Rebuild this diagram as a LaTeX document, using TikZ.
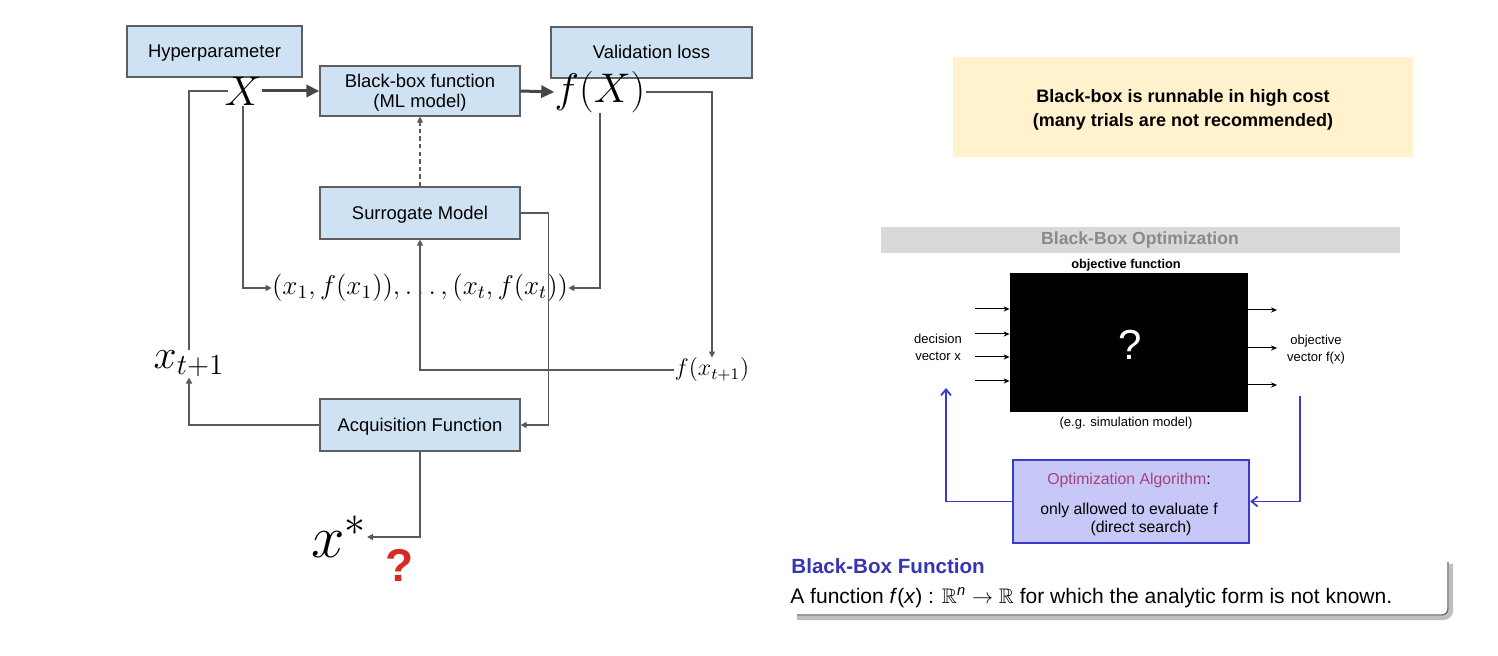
\RequirePackage{fix-cm}
\documentclass[tikz,border=0pt]{standalone}
\usepackage{amsmath}
\usepackage{amssymb}
\usepackage{fontspec}
\newfontfamily\arial{Liberation Sans}
\usetikzlibrary{arrows.meta}
\definecolor{boxfill}{HTML}{CFE2F3}
\definecolor{boxline}{HTML}{5F5F5F}
\definecolor{lineg}{HTML}{595959}
\definecolor{yel}{HTML}{FFF2CC}
\definecolor{banner}{HTML}{D9D9D9}
\definecolor{bannertext}{HTML}{8A8A8A}
\definecolor{blueline}{HTML}{3A3AD0}
\definecolor{optfill}{HTML}{C8C8F8}
\definecolor{optpurple}{HTML}{A8407E}
\definecolor{titleblue}{HTML}{3535B5}
\definecolor{qred}{HTML}{D82A20}
\begin{document}
\begin{tikzpicture}[x=0.5pt,y=-0.5pt,
  every node/.style={inner sep=0pt},
  bbox/.style={draw=boxline, fill=boxfill, line width=0.6pt, align=center,
    text height=6.6pt, text depth=0.5pt,
    font=\arial\fontsize{9.2}{10}\selectfont},
  conn/.style={draw=lineg, line width=0.65pt, -{Triangle[length=3pt,width=3pt]}},
  lineonly/.style={draw=lineg, line width=0.65pt},
  bigarrow/.style={draw=lineg!80!black, line width=1.5pt, -{Triangle[length=6.5pt,width=6pt]}},
  smallarrow/.style={draw=black, line width=0.5pt, -{Stealth[length=3pt,width=2.6pt]}},
  bluearrow/.style={draw=blueline, line width=0.9pt, -{Straight Barb[length=3pt,width=5pt]}},
  rtext/.style={font=\arial\fontsize{6.5}{8.5}\selectfont, align=center},
  opttext/.style={font=\arial\fontsize{7.9}{9}\selectfont}]
\useasboundingbox (0,0) rectangle (1498,656);

% ---------------- left diagram ----------------
\node[bbox, minimum width=87.5pt, minimum height=25.5pt] (hyp) at (214.5,51.5) {Hyperparameter};
\node[bbox, minimum width=100.5pt, minimum height=25.5pt] (val) at (651.5,52.5) {Validation loss};
\node[bbox, text height=16.6pt, minimum width=100pt, minimum height=25pt] (bb) at (420,91) {Black-box function\\(ML model)};
\node[bbox, minimum width=100pt, minimum height=26pt] (sur) at (420,213) {Surrogate Model};
\node[bbox, minimum width=100pt, minimum height=26pt] (acq) at (420,425) {Acquisition Function};

\node (X) at (243,91) {\fontsize{20.7}{24}\selectfont$X$};
\node (fX) at (600,92) {\fontsize{20.7}{24}\selectfont$f(X)$};
\node (data) at (420,288) {\fontsize{13.56}{16}\selectfont$(x_1,f(x_1)),\ldots,(x_t,f(x_t))$};
\node (ft1) at (712,370) {\fontsize{12}{14}\selectfont$f(x_{t+1})$};
\node (xt1) at (189,364) {\fontsize{20.7}{22}\selectfont$x_{t+1}$};
\node[anchor=east] (xstar) at (367,537) {\fontsize{30}{32}\selectfont$x^*$};
\node (qm) at (400,565) {\arial\bfseries\fontsize{23}{25}\selectfont\color{qred}?};

\draw[bigarrow] (X.east) -- (bb.west);
\draw[bigarrow] (bb.east) -- (fX.west);
\draw[conn] (fX.east) -| (ft1.north);
\draw[conn] (fX.south) |- (data.east);
\draw[conn] (X.south) |- (data.west);
\draw[conn] (ft1.west) -| (sur.south);
\draw[conn] (sur.east) -- ++(28,0) |- (acq.east);
\draw[conn] (acq.west) -| (xt1.south);
\draw[lineonly] (xt1.north) |- ([xshift=2pt]X.west);
\draw[conn] (acq.south) |- (xstar.east);
\draw[conn, dashed, dash pattern=on 2.2pt off 1.6pt] (sur.north) -- (bb.south);

% ---------------- right diagram ----------------
\node[fill=yel, minimum width=230pt, minimum height=50pt] (cost) at (1183,107) {};
\node[font=\arial\bfseries\fontsize{9}{12}\selectfont, align=center] (costtxt) at (1183,110)
  {Black-box is runnable in high cost\\(many trials are not recommended)};

\node[fill=banner, minimum width=259.5pt, minimum height=13pt] (ban) at (1140.5,240) {};
\node[font=\arial\bfseries\fontsize{8.8}{10}\selectfont, text=bannertext] (bantxt) at (1140,240) {Black-Box Optimization};

\node[font=\arial\bfseries\fontsize{6.4}{8}\selectfont] (objf) at (1126,265) {objective function};
\node[fill=black, minimum width=119pt, minimum height=69.5pt] (obj) at (1129,342.5) {};
\node[font=\arial\fontsize{21}{24}\selectfont, text=white] (qw) at (1130,345) {?};
\node[rtext] (simm) at (1126,423) {(e.g. simulation model)};
\node[rtext] (dec) at (938,347) {decision\\vector x};
\node[rtext] (objv) at (1316,350) {objective\\vector f(x)};

\coordinate (in1) at (975,309);
\coordinate (in2) at (975,334);
\coordinate (in3) at (975,357);
\coordinate (in4) at (975,381);
\foreach \c in {in1,in2,in3,in4} \draw[smallarrow] (\c) -- (\c -| obj.west);
\coordinate (out1) at (1277,310);
\coordinate (out2) at (1277,348);
\coordinate (out3) at (1277,385);
\foreach \c in {out1,out2,out3} \draw[smallarrow] (\c -| obj.east) -- (\c);

\node[draw=blueline, line width=1.2pt, fill=optfill, minimum width=118pt, minimum height=41.5pt] (opt) at (1131,501.5) {};
\node[opttext] (optt) at (1129,480) {\textcolor{optpurple}{Optimization Algorithm}:};
\node[opttext] (opt2) at (1129,510) {only allowed to evaluate f};
\node[opttext] (opt3) at (1141,528) {(direct search)};

\coordinate (bl) at (946,388);
\coordinate (br) at (1300,396);
\draw[bluearrow] (opt.west) -| (bl);
\draw[bluearrow] (br) |- (opt.east);

% Black-Box Function block
\draw[line width=2.2pt, black!25, rounded corners=4pt] (1451,564) -- (1451,618) -- (797,618);
\draw[line width=0.7pt, black!60, rounded corners=3pt] (1448,562) -- (1448,615) -- (797,615);
\node[anchor=west, font=\arial\bfseries\fontsize{10.3}{12}\selectfont, text=titleblue] (bft) at (791,566) {Black-Box Function};
\node[anchor=west, font=\arial\fontsize{10.5}{12}\selectfont] (bfb) at (790,598)
  {A function \textit{f}(\textit{x}) : $\mathbb{R}^{\text{\arial\itshape n}}\rightarrow\mathbb{R}$ for which the analytic form is not known.};
\end{tikzpicture}
\end{document}
